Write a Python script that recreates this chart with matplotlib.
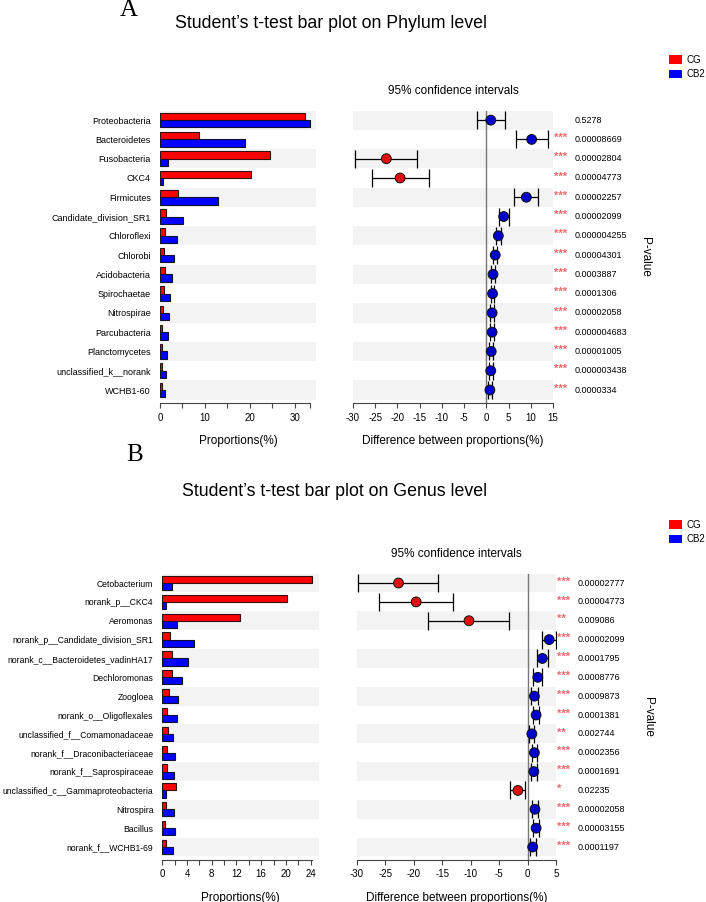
import numpy as np
import matplotlib
matplotlib.use("Agg")
import matplotlib.pyplot as plt
from matplotlib.patches import Patch

plt.rcParams["font.family"] = ["Liberation Sans", "DejaVu Sans"]

# Phylum level (panel A)
phylum_names = ["Proteobacteria", "Bacteroidetes", "Fusobacteria", "CKC4", "Firmicutes",
                "Candidate_division_SR1", "Chloroflexi", "Chlorobi", "Acidobacteria",
                "Spirochaetae", "Nitrospirae", "Parcubacteria", "Planctomycetes",
                "unclassified_k__norank", "WCHB1-60"]
phylum_cg = [32.3, 8.7, 24.4, 20.2, 3.9, 1.3, 1.1, 1.0, 1.2, 0.8, 0.7, 0.5, 0.5, 0.5, 0.4]
phylum_cb2 = [33.3, 19.0, 1.7, 0.6, 12.8, 5.2, 3.8, 3.1, 2.7, 2.2, 2.0, 1.8, 1.6, 1.4, 1.2]
phylum_diff = [1.0, 10.2, -22.5, -19.4, 9.0, 3.9, 2.7, 2.0, 1.5, 1.4, 1.3, 1.3, 1.1, 1.0, 0.8]
phylum_low = [-2.0, 6.7, -29.5, -25.8, 6.3, 2.85, 2.2, 1.5, 1.0, 1.0, 0.9, 0.9, 0.7, 0.6, 0.4]
phylum_high = [4.1, 13.9, -15.5, -13.0, 11.7, 5.0, 3.2, 2.5, 2.0, 1.8, 1.7, 1.7, 1.5, 1.4, 1.2]
phylum_p = ["0.5278", "0.00008669", "0.00002804", "0.00004773", "0.00002257",
            "0.00002099", "0.000004255", "0.00004301", "0.0003887", "0.0001306",
            "0.00002058", "0.000004683", "0.00001005", "0.000003438", "0.0000334"]

# Genus level (panel B)
genus_names = ["Cetobacterium", "norank_p__CKC4", "Aeromonas",
               "norank_p__Candidate_division_SR1", "norank_c__Bacteroidetes_vadinHA17",
               "Dechloromonas", "Zoogloea", "norank_o__Oligoflexales",
               "unclassified_f__Comamonadaceae", "norank_f__Draconibacteriaceae",
               "norank_f__Saprospiraceae", "unclassified_c__Gammaproteobacteria",
               "Nitrospira", "Bacillus", "norank_f__WCHB1-69"]
genus_cg = [24.2, 20.2, 12.6, 1.3, 1.5, 1.5, 1.1, 0.75, 1.0, 0.75, 0.75, 2.2, 0.65, 0.5, 0.65]
genus_cb2 = [1.6, 0.6, 2.3, 5.1, 4.2, 3.2, 2.5, 2.3, 1.8, 2.0, 1.95, 0.6, 1.95, 2.1, 1.7]
genus_diff = [-22.7, -19.6, -10.3, 3.8, 2.6, 1.8, 1.2, 1.5, 0.75, 1.2, 1.1, -1.7, 1.3, 1.5, 0.9]
genus_low = [-29.8, -26.1, -17.5, 2.6, 1.7, 0.9, 0.6, 1.0, 0.3, 0.7, 0.6, -3.1, 0.8, 1.0, 0.4]
genus_high = [-15.7, -13.1, -3.2, 5.0, 3.6, 2.5, 1.9, 2.0, 1.2, 1.7, 1.6, -0.4, 1.8, 2.0, 1.4]
genus_p = ["0.00002777", "0.00004773", "0.009086", "0.00002099", "0.0001795",
           "0.0008776", "0.0009873", "0.0001381", "0.002744", "0.0002356",
           "0.0001691", "0.02235", "0.00002058", "0.00003155", "0.0001197"]

W, H = 706, 902
BAND = "#f3f3f3"
STAR = "#f06a72"


def stars(p):
    p = float(p)
    if p < 0.001:
        return "***"
    if p < 0.01:
        return "**"
    if p < 0.05:
        return "*"
    return ""


def panel(fig, names, cg, cb2, diff, low, high, pvals, bar_rect, ci_rect,
          bar_xlim, bar_ticks, bar_labels, bar_spine, ci_xlim, ci_ticks, name_size=6.5):
    n = len(names)
    y = np.arange(n)[::-1]

    # left: proportions
    ax = fig.add_axes(bar_rect)
    for i in range(0, n, 2):
        ax.axhspan(y[i] - 0.5, y[i] + 0.5, color=BAND, lw=0, zorder=0)
    h = 0.38
    ax.barh(y + h / 2, cg, height=h, color="#ff0000", edgecolor="#301010", lw=0.8, zorder=2)
    ax.barh(y - h / 2, cb2, height=h, color="#0000ff", edgecolor="#101030", lw=0.8, zorder=2)
    ax.set_xlim(*bar_xlim)
    ax.set_ylim(-0.7, n - 0.5)
    ax.set_yticks(y)
    ax.set_yticklabels(names, fontsize=name_size)
    ax.tick_params(axis="y", left=False, pad=3)
    ax.set_xticks(bar_ticks)
    ax.set_xticklabels(bar_labels, fontsize=7)
    ax.tick_params(axis="x", length=3.5, width=0.8, color="#444444", pad=3)
    for s in ["top", "right", "left"]:
        ax.spines[s].set_visible(False)
    ax.spines["bottom"].set_bounds(*bar_spine)
    ax.spines["bottom"].set_color("#444444")
    ax.set_xlabel("Proportions(%)", fontsize=8.5, labelpad=9)

    # right: confidence intervals
    ax2 = fig.add_axes(ci_rect)
    for i in range(0, n, 2):
        ax2.axhspan(y[i] - 0.5, y[i] + 0.5, color=BAND, lw=0, zorder=0)
    ax2.plot([0, 0], [-0.7, n - 0.5], color="#777777", lw=1, zorder=1)
    d = np.array(diff)
    err = [d - np.array(low), np.array(high) - d]
    ax2.errorbar(d, y, xerr=err, fmt="none", ecolor="black", elinewidth=0.9,
                 capsize=6.5, capthick=0.9, zorder=2)
    cols = ["#0000cc" if v > 0 else "#e01010" for v in diff]
    ax2.scatter(d, y, s=50, c=cols, edgecolors="#111111", linewidths=0.7, zorder=3)
    ax2.set_xlim(*ci_xlim)
    ax2.set_ylim(-0.7, n - 0.5)
    ax2.set_yticks([])
    ax2.set_xticks(ci_ticks)
    ax2.set_xticklabels([str(t) for t in ci_ticks], fontsize=7)
    ax2.tick_params(axis="x", length=3.5, width=0.8, color="#444444", pad=3)
    for s in ["top", "right", "left"]:
        ax2.spines[s].set_visible(False)
    ax2.spines["bottom"].set_color("#444444")
    ax2.set_xlabel("Difference between proportions(%)", fontsize=8.5, labelpad=9)
    ax2.text(0.5, 1.067, "95% confidence intervals", transform=ax2.transAxes,
             ha="center", va="center", fontsize=8.5)

    tr = ax2.get_yaxis_transform()
    for yi, p in zip(y, pvals):
        ax2.text(1.003, yi + 0.08, stars(p), transform=tr, ha="left", va="center",
                 fontsize=8, color=STAR, fontweight="bold")
        ax2.text(1.11, yi, p, transform=tr, ha="left", va="center", fontsize=6.5)
    ax2.text(1.46, 0.5, "P-value", transform=ax2.transAxes, rotation=-90,
             ha="center", va="center", fontsize=8.5)


fig = plt.figure(figsize=(W / 100, H / 100), dpi=100)

# panel A
fig.text(129 / W, 1 - 10 / H, "A", family="Liberation Serif", fontsize=18, ha="center", va="center")
fig.text(175 / W, 1 - 24 / H, "Student\u2019s t-test bar plot on Phylum level",
         fontsize=12.8, ha="left", va="center")
top_b = 1 - 403.5 / H
top_h = 293 / H
panel(fig, phylum_names, phylum_cg, phylum_cb2, phylum_diff, phylum_low, phylum_high, phylum_p,
      [160 / W, top_b, 156 / W, top_h], [353 / W, top_b, 200 / W, top_h],
      (0, 34.7), [0, 5, 10, 15, 20, 25, 30, 33.3], ["0", "", "10", "", "20", "", "30", ""],
      (0, 33.3), (-30, 15), [-30, -25, -20, -15, -10, -5, 0, 5, 10, 15])

# panel B
fig.text(135 / W, 1 - 455 / H, "B", family="Liberation Serif", fontsize=18, ha="center", va="center")
fig.text(182 / W, 1 - 492 / H, "Student\u2019s t-test bar plot on Genus level",
         fontsize=12.8, ha="left", va="center")
bot_b = 1 - 860.2 / H
bot_h = 286.6 / H
panel(fig, genus_names, genus_cg, genus_cb2, genus_diff, genus_low, genus_high, genus_p,
      [162.3 / W, bot_b, 156.7 / W, bot_h], [357 / W, bot_b, 199 / W, bot_h],
      (0, 25.35), list(range(0, 25, 2)), [str(t) if t % 4 == 0 else "" for t in range(0, 25, 2)],
      (0, 24.2), (-30, 5), [-30, -25, -20, -15, -10, -5, 0, 5], name_size=6.2)

# legends
handles = [Patch(facecolor="#ff0000", edgecolor="none"), Patch(facecolor="#0000ff", edgecolor="none")]
for ytop in [50, 515]:
    fig.legend(handles, ["CG", "CB2"], loc="upper left", bbox_to_anchor=(664 / W, 1 - ytop / H),
               frameon=False, fontsize=7, handlelength=1.3, handleheight=0.9,
               handletextpad=0.5, labelspacing=0.45, borderpad=0)

fig.savefig("out.png", dpi=100)
